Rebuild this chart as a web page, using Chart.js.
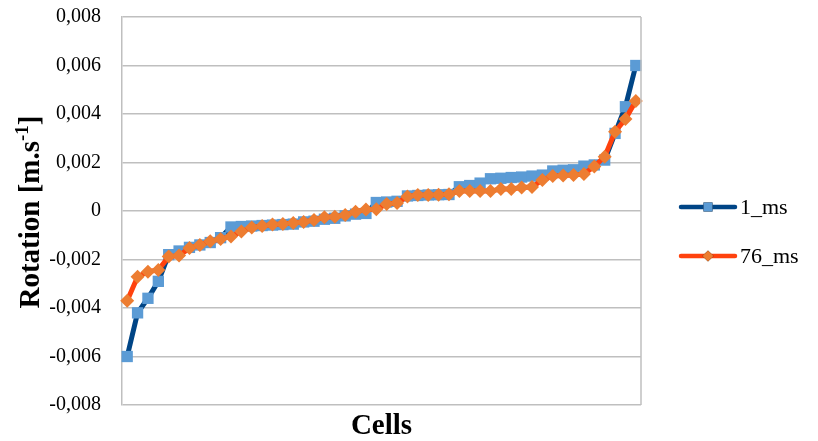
<!DOCTYPE html>
<html><head><meta charset="utf-8">
<script src="https://cdn.jsdelivr.net/npm/chart.js@4/dist/chart.umd.min.js"></script>
<style>html,body{margin:0;padding:0;background:#fff;}#wrap{width:818px;height:441px;}</style>
</head><body><div id="wrap"><canvas id="c" width="818" height="441"></canvas></div>
<script>
const categories = ['1','2','3','4','5','6','7','8','9','10','11','12','13','14','15','16','17','18','19','20','21','22','23','24','25','26','27','28','29','30','31','32','33','34','35','36','37','38','39','40','41','42','43','44','45','46','47','48','49','50'];
const seriesNames = ['1_ms', '76_ms'];
const ms1 = [-0.0060,-0.0042,-0.0036,-0.0029,-0.0018,-0.00165,-0.0015,-0.0014,-0.0013,-0.0011,
  -0.00066,-0.00064,-0.00062,-0.0006,-0.00058,-0.00056,-0.00054,-0.00045,-0.00042,-0.00034,
  -0.0003,-0.0002,-0.00013,-0.0001,0.00035,0.00037,0.0004,0.00062,0.00064,0.00066,
  0.00067,0.00068,0.001,0.00105,0.00115,0.00133,0.00135,0.00138,0.0014,0.00144,
  0.00148,0.00165,0.00168,0.0017,0.00185,0.0019,0.0021,0.0032,0.0043,0.0060];
const ms76 = [-0.0037,-0.00271,-0.0025,-0.00243,-0.00188,-0.00184,-0.00153,-0.0014,-0.00125,-0.00115,
  -0.00105,-0.00085,-0.00068,-0.00062,-0.00056,-0.00054,-0.00049,-0.00045,-0.00037,-0.00026,
  -0.00024,-0.00016,-0.00003,0.00006,0.00007,0.00029,0.00033,0.0006,0.00066,0.00066,
  0.00067,0.00069,0.00082,0.00082,0.00082,0.00082,0.00091,0.00091,0.00097,0.00099,
  0.00128,0.00144,0.00146,0.00148,0.00153,0.00183,0.00224,0.00327,0.00379,0.00454];
const yTickValues = [-0.008,-0.006,-0.004,-0.002,0,0.002,0.004,0.006,0.008];
const xTitle = 'Cells';
const yTitleParts = ['Rotation [m.s', '-1', ']'];

const SERIF = "'Liberation Serif','Times New Roman',serif";
const GRID = '#bfbfbf';

function fmt(v){
  if (Math.abs(v) < 1e-12) return '0';
  return v.toFixed(3).replace('.', ',');
}

const decor = {
  id: 'decor',
  afterDraw(chart) {
    const ctx = chart.ctx, a = chart.chartArea;
    ctx.save();
    ctx.strokeStyle = GRID; ctx.lineWidth = 1.5;
    ctx.beginPath(); ctx.moveTo(a.right, a.top); ctx.lineTo(a.right, a.bottom); ctx.stroke();
    ctx.fillStyle = '#000';
    ctx.font = "bold 29px " + SERIF;
    ctx.textAlign = 'center'; ctx.textBaseline = 'middle';
    ctx.fillText(xTitle, (a.left + a.right) / 2, 427);
    ctx.save();
    ctx.translate(32, 212);
    ctx.rotate(-Math.PI / 2);
    const mainFont = "bold 29px " + SERIF, supFont = "bold 19px " + SERIF;
    ctx.font = mainFont; const w1 = ctx.measureText(yTitleParts[0]).width; const w3 = ctx.measureText(yTitleParts[2]).width;
    ctx.font = supFont; const w2 = ctx.measureText(yTitleParts[1]).width;
    let x = -(w1 + w2 + w3) / 2;
    ctx.textAlign = 'left'; ctx.textBaseline = 'middle';
    ctx.font = mainFont; ctx.fillText(yTitleParts[0], x, 0); x += w1;
    ctx.font = supFont; ctx.fillText(yTitleParts[1], x, -9); x += w2;
    ctx.font = mainFont; ctx.fillText(yTitleParts[2], x, 0);
    ctx.restore();
    const rows = [207, 256];
    chart.data.datasets.forEach((ds, i) => {
      const y = rows[i];
      ctx.strokeStyle = ds.borderColor; ctx.lineWidth = 4.5; ctx.lineCap = 'round';
      ctx.beginPath(); ctx.moveTo(681, y); ctx.lineTo(735, y); ctx.stroke();
      Chart.helpers.drawPoint(ctx, {pointStyle: ds.pointStyle, radius: ds.pointRadius * 0.8, rotation: 0, borderWidth: 0}, 708, y);
      ctx.fillStyle = ds.pointBackgroundColor;
      ctx.fill();
      ctx.fillStyle = '#000';
      ctx.font = "22px " + SERIF; ctx.textAlign = 'left'; ctx.textBaseline = 'middle';
      ctx.fillText(ds.label, 740, y + 1);
    });
    ctx.restore();
  }
};

new Chart(document.getElementById('c'), {
  type: 'line',
  data: {
    labels: categories,
    datasets: [
      { label: seriesNames[0], data: ms1, borderColor: '#004586', borderWidth: 5, tension: 0,
        pointStyle: 'rect', pointRadius: 8, pointBackgroundColor: '#5b9bd5', pointBorderColor: '#5b9bd5', pointBorderWidth: 0, order: 2 },
      { label: seriesNames[1], data: ms76, borderColor: '#ff420e', borderWidth: 5, tension: 0,
        pointStyle: 'rectRot', pointRadius: 7, pointBackgroundColor: '#ed7d31', pointBorderColor: '#ed7d31', pointBorderWidth: 0, order: 1 }
    ]
  },
  options: {
    responsive: false, animation: false, devicePixelRatio: 1,
    layout: { autoPadding: false, padding: { left: 0, right: 177, top: 17, bottom: 36 } },
    plugins: { legend: { display: false }, title: { display: false }, tooltip: { enabled: false } },
    scales: {
      x: { type: 'category', offset: true, display: false },
      y: {
        min: -0.008, max: 0.008,
        afterBuildTicks: s => { s.ticks = yTickValues.map(v => ({ value: v })); },
        afterFit: s => { s.width = 122; s.paddingTop = 0; s.paddingBottom = 0; },
        ticks: { callback: v => fmt(v), color: '#000', padding: 21, font: { family: SERIF, size: 20 } },
        grid: { color: GRID, lineWidth: 1.5, drawTicks: false },
        border: { color: GRID, width: 1.5 }
      }
    }
  },
  plugins: [decor]
});
</script></body></html>
